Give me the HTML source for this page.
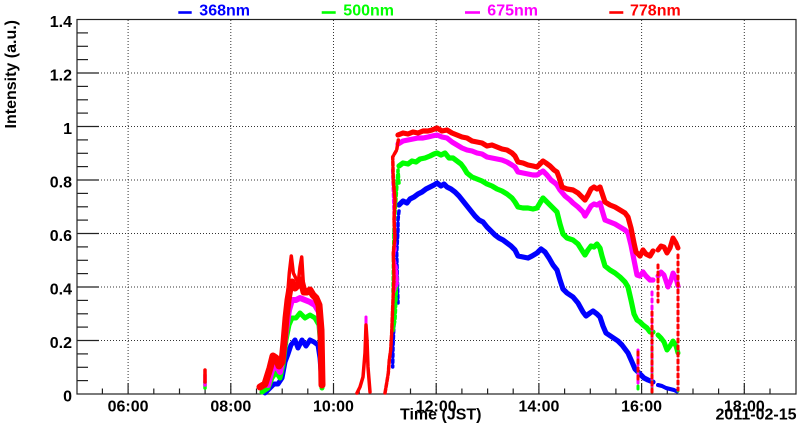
<!DOCTYPE html>
<html><head><meta charset="utf-8"><style>
html,body{margin:0;padding:0;background:#fff;}
svg{display:block;}
text{font-family:"Liberation Sans",Arial,sans-serif;font-weight:bold;font-size:16px;fill:#000;}
</style></head><body>
<svg width="800" height="434" viewBox="0 0 800 434" xmlns="http://www.w3.org/2000/svg">
<rect x="0" y="0" width="800" height="434" fill="#fff"/>
<!-- grid -->
<g stroke="#333" stroke-width="1" stroke-dasharray="1,2" fill="none">
<line x1="128.1" y1="20" x2="128.1" y2="394"/>
<line x1="230.8" y1="20" x2="230.8" y2="394"/>
<line x1="333.5" y1="20" x2="333.5" y2="394"/>
<line x1="436.2" y1="20" x2="436.2" y2="394"/>
<line x1="538.9" y1="20" x2="538.9" y2="394"/>
<line x1="641.6" y1="20" x2="641.6" y2="394"/>
<line x1="744.3" y1="20" x2="744.3" y2="394"/>
<line x1="77" y1="340.5" x2="796" y2="340.5"/>
<line x1="77" y1="287" x2="796" y2="287"/>
<line x1="77" y1="233.5" x2="796" y2="233.5"/>
<line x1="77" y1="180" x2="796" y2="180"/>
<line x1="77" y1="126.5" x2="796" y2="126.5"/>
<line x1="77" y1="73" x2="796" y2="73"/>
</g>
<!-- frame -->
<rect x="77" y="19.5" width="719" height="374.5" fill="none" stroke="#222" stroke-width="1.2"/>
<!-- y ticks -->
<g stroke="#222" stroke-width="1.2">
<line x1="77" y1="340.5" x2="99" y2="340.5"/><line x1="77" y1="287" x2="99" y2="287"/><line x1="77" y1="233.5" x2="99" y2="233.5"/><line x1="77" y1="180" x2="99" y2="180"/><line x1="77" y1="126.5" x2="99" y2="126.5"/><line x1="77" y1="73" x2="99" y2="73"/>
<line x1="77" y1="380.6" x2="88" y2="380.6"/><line x1="77" y1="367.3" x2="88" y2="367.3"/><line x1="77" y1="353.9" x2="88" y2="353.9"/>
<line x1="77" y1="327.1" x2="88" y2="327.1"/><line x1="77" y1="313.8" x2="88" y2="313.8"/><line x1="77" y1="300.4" x2="88" y2="300.4"/>
<line x1="77" y1="273.6" x2="88" y2="273.6"/><line x1="77" y1="260.3" x2="88" y2="260.3"/><line x1="77" y1="246.9" x2="88" y2="246.9"/>
<line x1="77" y1="220.1" x2="88" y2="220.1"/><line x1="77" y1="206.8" x2="88" y2="206.8"/><line x1="77" y1="193.4" x2="88" y2="193.4"/>
<line x1="77" y1="166.6" x2="88" y2="166.6"/><line x1="77" y1="153.3" x2="88" y2="153.3"/><line x1="77" y1="139.9" x2="88" y2="139.9"/>
<line x1="77" y1="113.1" x2="88" y2="113.1"/><line x1="77" y1="99.8" x2="88" y2="99.8"/><line x1="77" y1="86.4" x2="88" y2="86.4"/>
<line x1="77" y1="59.6" x2="88" y2="59.6"/><line x1="77" y1="46.3" x2="88" y2="46.3"/><line x1="77" y1="32.9" x2="88" y2="32.9"/>
</g>
<!-- x ticks -->
<g stroke="#222" stroke-width="1.2">
<line x1="128.1" y1="394" x2="128.1" y2="383"/><line x1="230.8" y1="394" x2="230.8" y2="383"/><line x1="333.5" y1="394" x2="333.5" y2="383"/><line x1="436.2" y1="394" x2="436.2" y2="383"/><line x1="538.9" y1="394" x2="538.9" y2="383"/><line x1="641.6" y1="394" x2="641.6" y2="383"/><line x1="744.3" y1="394" x2="744.3" y2="383"/>
<line x1="102.4" y1="394" x2="102.4" y2="388.5"/><line x1="153.8" y1="394" x2="153.8" y2="388.5"/><line x1="179.5" y1="394" x2="179.5" y2="388.5"/><line x1="205.1" y1="394" x2="205.1" y2="388.5"/>
<line x1="256.5" y1="394" x2="256.5" y2="388.5"/><line x1="282.2" y1="394" x2="282.2" y2="388.5"/><line x1="307.8" y1="394" x2="307.8" y2="388.5"/>
<line x1="359.2" y1="394" x2="359.2" y2="388.5"/><line x1="384.9" y1="394" x2="384.9" y2="388.5"/><line x1="410.5" y1="394" x2="410.5" y2="388.5"/>
<line x1="461.9" y1="394" x2="461.9" y2="388.5"/><line x1="487.6" y1="394" x2="487.6" y2="388.5"/><line x1="513.2" y1="394" x2="513.2" y2="388.5"/>
<line x1="564.6" y1="394" x2="564.6" y2="388.5"/><line x1="590.3" y1="394" x2="590.3" y2="388.5"/><line x1="615.9" y1="394" x2="615.9" y2="388.5"/>
<line x1="667.3" y1="394" x2="667.3" y2="388.5"/><line x1="693" y1="394" x2="693" y2="388.5"/><line x1="718.6" y1="394" x2="718.6" y2="388.5"/>
<line x1="770" y1="394" x2="770" y2="388.5"/>
</g>
<!-- y labels -->
<g text-anchor="end">
<text x="72" y="401.5">0</text>
<text x="72" y="348">0.2</text>
<text x="72" y="294.5">0.4</text>
<text x="72" y="241">0.6</text>
<text x="72" y="187.5">0.8</text>
<text x="72" y="134">1</text>
<text x="72" y="80.5">1.2</text>
<text x="72" y="27">1.4</text>
</g>
<!-- x labels -->
<g text-anchor="middle">
<text x="128.1" y="411.5">06:00</text>
<text x="230.8" y="411.5">08:00</text>
<text x="333.5" y="411.5">10:00</text>
<text x="436.2" y="411.5">12:00</text>
<text x="538.9" y="411.5">14:00</text>
<text x="641.6" y="411.5">16:00</text>
<text x="744.3" y="411.5">18:00</text>
</g>
<text x="481.5" y="419.5" text-anchor="end">Time (JST)</text>
<text x="796.5" y="419.5" text-anchor="end">2011-02-15</text>
<text transform="translate(16,20) rotate(-90)" text-anchor="end">Intensity (a.u.)</text>
<!-- legend -->
<g stroke-width="2.6">
<line x1="178.3" y1="12.5" x2="191.7" y2="12.5" stroke="#0000ff"/>
<line x1="321.7" y1="12.5" x2="335.7" y2="12.5" stroke="#00ff00"/>
<line x1="465" y1="12.5" x2="480" y2="12.5" stroke="#ff00ff"/>
<line x1="609.3" y1="12.5" x2="623.3" y2="12.5" stroke="#ff0000"/>
</g>
<text x="199.3" y="15.5" style="fill:#0000ff">368nm</text>
<text x="343.3" y="15.5" style="fill:#00ff00">500nm</text>
<text x="487.3" y="15.5" style="fill:#ff00ff">675nm</text>
<text x="630" y="15.5" style="fill:#ff0000">778nm</text>

<!-- DATA -->
<g fill="none" stroke-linejoin="round" stroke-linecap="round">
<!-- BLUE -->
<g stroke="#0000ff">
<polyline stroke-width="5.2" points="399,205 403,201 407,203 410,199 414,197 418,194 422,192 426,189 430,187 434,185 437,183 441,186 444,184 447,187 451,189 455,192 459,196 463,201 467,206 471,211 475,216 479,220 483,222 487,227 491,231 495,235 499,238 503,240 507,243 511,246 515,250 518,256 523,257 528,258 532,256 537,253 541,249 545,252 549,258 553,265 557,270 560,280 563,289 567,293 573,297 578,303 583,312 586,316 590,313 593,311 597,314 600,317 603,326 606,333 612,337 618,341 622,345 628,353 632,362 635,369 640,374 644,378 648,380 653,382"/>
<polyline stroke-width="4" points="658,385 662,386 666,388 670,389 674,390 677,391.5"/>
<polyline stroke-width="5" points="265,393 270,388 274,384 278,384 282,378 285,362 288,354 291,345 295,340 298,348 302,340 306,346 310,340 314,342 318,345 320,358 322,385"/>
<polyline stroke-width="3.5" stroke-dasharray="3,3" points="399,211 398,220 398,230 396.7,253 398,303 395,300 393,347 392.7,367"/>
<polyline stroke-width="3" stroke-dasharray="2,4" points="652,384 652,393"/>
</g>
<!-- GREEN -->
<g stroke="#00ff00">
<polyline stroke-width="5.2" points="399,166 403,163 408,164 412,161 416,162 420,159 425,158 430,156 434,154 437,153 441,155 445,153 449,158 453,158 457,161 461,164 464,168 467,173 472,177 477,179 482,181 487,184 492,186 497,189 502,191 507,194 512,198 515,202 518,207 523,208 528,208 533,209 537,208 540,203 543,198 546,201 550,205 555,210 557,212 560,224 563,234 567,238 573,240 578,244 583,252 585,255 588,250 591,246 594,247 597,244 600,248 602,256 605,266 610,270 615,273 620,277 625,282 628,287 631,300 634,314 637,320 640,322 643,325 647,328 650,332 653,332"/>
<polyline stroke-width="5" points="658,335 661,338 664,342 667,350 670,346 673,341 676,346 678,353"/>
<polyline stroke-width="5" points="262,392 268,388 272,378 276,372 280,378 283,365 286,340 289,325 292,318 296,318 300,313 305,318 310,315 315,318 319,325 321,350 322,388"/>
<polyline stroke-width="3.5" stroke-dasharray="3,3" points="399,183 398,170 394,227 393,293 396.7,287 397,277 395,320 392.7,333"/>
<polyline stroke-width="3" stroke-dasharray="3,4" points="652,335 652,392"/>
<polyline stroke-width="3" stroke-dasharray="3,4" points="678,353 678,392"/>
<polyline stroke-width="3" stroke-dasharray="3,4" points="638,372 638,390"/>
<polyline stroke-width="3.5" points="205,382 205,388"/>
<polyline stroke-width="3" points="366,330 367,345"/>
</g>
<!-- MAGENTA -->
<g stroke="#ff00ff">
<polyline stroke-width="5.2" points="398,144 403,141 408,140 413,139 418,138 423,138 428,137 432,136 437,135 442,137 447,138 452,142 457,145 462,148 467,150 472,151 477,153 482,154 487,157 492,158 497,159 502,160 507,162 512,165 515,167 518,172 523,173 528,174 533,175 537,175 540,173 543,171 547,175 551,180 555,183 557,185 560,190 565,196 570,200 573,203 578,207 583,212 585,216 588,211 591,206 594,204 597,205 600,203 602,210 605,220 610,222 615,224 620,227 625,230 628,233 631,245 634,260 637,275 640,276 643,272 646,276 650,280 653,280"/>
<polyline stroke-width="5" points="658,276 661,272 664,275 668,287 671,280 673,273 676,278 678,286"/>
<polyline stroke-width="6" points="268,385 272,370 276,365 280,372 283,355 286,330 289,310 292,300 296,300 300,298 305,300 310,302 315,305 319,312 321,340 322,385"/>
<polyline stroke-width="3.5" stroke-dasharray="3,3" points="392.7,170 394,210 395,250 393.3,257 396,267 397.3,283 393.3,293"/>
<polyline stroke-width="3" stroke-dasharray="3,4" points="652,292 652,390"/>
<polyline stroke-width="3" stroke-dasharray="3,4" points="678,290 678,390"/>
<polyline stroke-width="3" stroke-dasharray="3,3" points="638,350 638,386"/>
<polyline stroke-width="3.5" points="205,375 205,385"/>
<polyline stroke-width="3" points="366,317 366,330"/>
</g>
<!-- RED -->
<g stroke="#ff0000">
<polyline stroke-width="5.2" points="398,135 403,133 408,134 413,132 418,133 423,131 428,131 432,130 437,128 442,131 447,130 452,133 457,135 462,137 467,138 472,141 477,142 482,143 487,146 492,145 497,147 502,149 507,150 512,153 515,156 518,162 523,163 528,165 533,166 537,167 540,164 543,161 546,163 550,166 554,170 557,172 560,180 562,187 567,189 573,190 578,193 583,198 585,200 588,195 591,189 594,187 597,189 600,187 602,193 605,202 610,205 615,207 620,210 625,213 628,217 631,228 634,243 636,252 640,256 643,250 646,254 650,256 653,251"/>
<polyline stroke-width="5" points="658,250 661,246 664,247 667,253 670,248 673,238 676,243 678,248"/>
<polyline stroke-width="7" points="260,387 265,384 270,368 273,356 276,358 279,366 282,362 284,342 286,318 288,300 290,288 292,282 295,288 298,285 301,280 304,292 307,292 310,290 313,295 316,298 319,305 321,330 322,385"/>
<polyline stroke-width="3.5" points="288,290 289.3,273 291.3,256 293.3,273 296.7,280"/>
<polyline stroke-width="3.5" points="298,285 300,267 301.7,257 303.3,283"/>
<polyline stroke-width="3.5" stroke-dasharray="4,2" points="385,393 386.7,383 388.3,373 389.3,360 390.7,350 391.7,333 392.7,307 394,277 393.3,253 395,237 394,220 395,200 393.3,180 392.7,157 396.7,150 398.3,140"/>
<polyline stroke-width="3.5" points="357,393 360,387 363,377 365,353 366,325 367,340 368,367 370,392"/>
<polyline stroke-width="3.5" points="205,370 205,382"/>
<polyline stroke-width="3" stroke-dasharray="3,4" points="652,312 652,393"/>
<polyline stroke-width="3" stroke-dasharray="3,4" points="658,265 658,302"/>
<polyline stroke-width="3" stroke-dasharray="3,4" points="678,255 678,390"/>
<polyline stroke-width="3" stroke-dasharray="3,5" points="638,352 638,380"/>
</g>
</g>
</svg>
</body></html>
